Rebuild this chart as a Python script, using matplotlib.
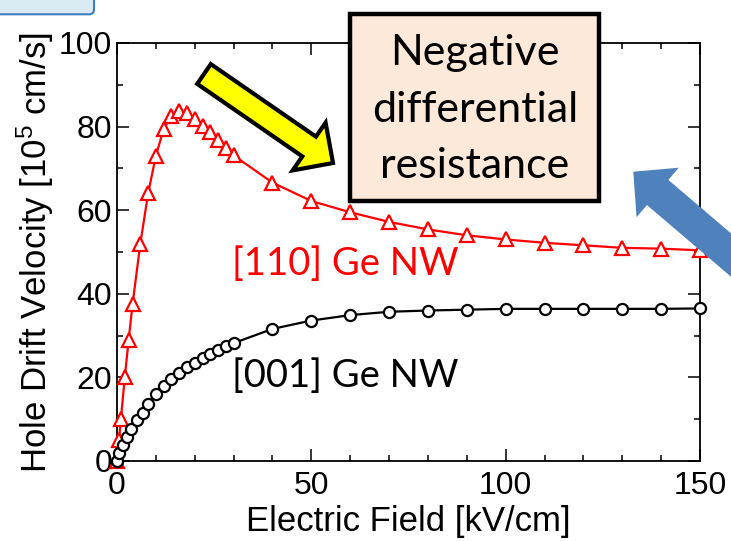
import matplotlib
matplotlib.use("Agg")
import matplotlib.pyplot as plt
import matplotlib.transforms as mtransforms
from matplotlib.patches import FancyArrow, Rectangle, FancyBboxPatch
from matplotlib.ticker import MultipleLocator

plt.rcParams['font.family'] = ['Liberation Sans', 'DejaVu Sans']
plt.rcParams['mathtext.fontset'] = 'custom'
plt.rcParams['mathtext.rm'] = 'Liberation Sans'
plt.rcParams['mathtext.it'] = 'Liberation Sans:italic'

# ---- data ----
x110 = [0, 0.5, 1, 2, 3, 4, 6, 8, 10, 12, 14, 16, 18, 20, 22, 24, 26, 28, 30,
        40, 50, 60, 70, 80, 90, 100, 110, 120, 130, 140, 150]
y110 = [0, 5, 10, 20, 29, 37.5, 52, 64, 73, 79.4, 82.6, 83.8, 83.2, 81.8, 80.2,
        78.6, 76.7, 75, 73.1, 66.6, 62.2, 59.5, 57.2, 55.4, 54.0, 53.0, 52.2,
        51.6, 51.0, 50.8, 50.4]
x001 = [0, 0.5, 1.5, 2.5, 3.7, 5.2, 6.6, 8, 10, 12, 14, 16, 18, 20, 22, 24, 26,
        28, 30, 40, 50, 60, 70, 80, 90, 100, 110, 120, 130, 140, 150]
y001 = [0, 1.8, 3.8, 5.8, 7.6, 9.8, 11.6, 13.6, 16, 17.9, 19.6, 21.1, 22.4,
        23.4, 24.6, 25.6, 26.6, 27.4, 28.2, 31.6, 33.6, 34.9, 35.7, 36.0, 36.2,
        36.4, 36.4, 36.4, 36.4, 36.4, 36.5]
series_labels = ["[110] Ge NW", "[001] Ge NW"]
xlabel = "Electric Field [kV/cm]"
ylabel = "Hole Drift Velocity [10$^{5}$ cm/s]"
callout_lines = ["Negative", "differential", "resistance"]

W, H = 731, 541
fig = plt.figure(figsize=(W / 100, H / 100), dpi=100)
ax = fig.add_axes([117 / W, 1 - 461 / H, 583 / W, 418 / H])

ax.plot(x110, y110, '-^', color='red', mfc='white', mec='red', ms=10, mew=1.6,
        lw=1.6, clip_on=False, zorder=3)
ax.plot(x001, y001, '-o', color='black', mfc='white', mec='black', ms=8, mew=1.6,
        lw=1.6, clip_on=False, zorder=3)

ax.set_xlim(0, 150)
ax.set_ylim(0, 100)
ax.xaxis.set_major_locator(MultipleLocator(50))
ax.xaxis.set_minor_locator(MultipleLocator(10))
ax.yaxis.set_major_locator(MultipleLocator(20))
ax.yaxis.set_minor_locator(MultipleLocator(10))
ax.tick_params(which='both', direction='in', top=True, right=True, width=1.1)
ax.tick_params(which='major', length=8.5, labelsize=23)
ax.tick_params(axis='x', which='major', pad=7)
ax.tick_params(axis='y', which='major', pad=3.5)
ax.tick_params(which='minor', length=4.5)
for s in ax.spines.values():
    s.set_linewidth(1.3)

ax.set_xlabel(xlabel, fontsize=25, va='center')
ax.set_ylabel(ylabel, fontsize=25, va='center')
ax.xaxis.set_label_coords(0.5, (461 - 522) / 418)
ax.yaxis.set_label_coords((35 - 117) / 583, 0.5)

ax.text(29.5, 44.6, series_labels[0], color='red', fontsize=27.5, family='Lato',
        ha='left', va='baseline')
ax.text(29.5, 17.8, series_labels[1], color='black', fontsize=27.5, family='Lato',
        ha='left', va='baseline')

# pixel-space transform (origin top-left)
tr = mtransforms.Affine2D().scale(1 / W, -1 / H).translate(0, 1) + fig.transFigure

# top-left blue box
fig.add_artist(FancyBboxPatch((-20, -20), 114, 34.3,
                              boxstyle="round,pad=0,rounding_size=5",
                              facecolor='#DAEBF4', edgecolor='#3C7DC4', lw=1.5,
                              transform=tr, zorder=5))

# callout box
fig.add_artist(Rectangle((350, 14), 249, 187, facecolor='#FDE9D9',
                         edgecolor='black', lw=3.2, transform=tr, zorder=5))
for line, yb in zip(callout_lines, [65, 122, 178]):
    fig.text(475 / W, 1 - yb / H, line, fontsize=31, family='Lato',
             ha='center', va='baseline', zorder=6)

# yellow arrow
tail = (204, 74)
tip = (333, 163)
fig.add_artist(FancyArrow(tail[0], tail[1], tip[0] - tail[0], tip[1] - tail[1],
                          width=24, head_width=58, head_length=29,
                          length_includes_head=True, facecolor='#FFFF00',
                          edgecolor='black', lw=3, transform=tr, zorder=5))

# blue arrow
btip = (633.3, 171.7)
btail = (633.3 + 200 * 0.761, 171.7 + 200 * 0.649)
fig.add_artist(FancyArrow(btail[0], btail[1], btip[0] - btail[0], btip[1] - btail[1],
                          width=33, head_width=65, head_length=32,
                          length_includes_head=True, facecolor='#4F81BD',
                          edgecolor='none', transform=tr, zorder=5))

fig.savefig("out.png", dpi=100)
